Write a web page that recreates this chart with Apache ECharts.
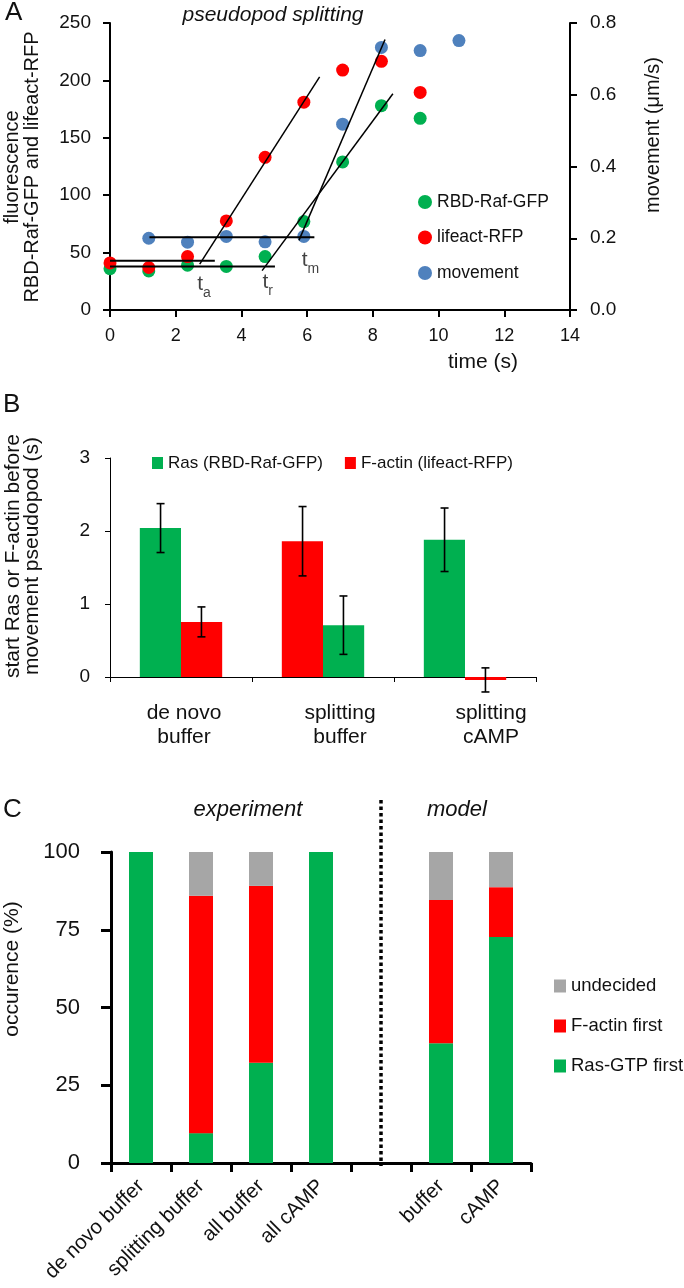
<!DOCTYPE html>
<html><head><meta charset="utf-8">
<script src="https://cdn.jsdelivr.net/npm/echarts@6/dist/echarts.min.js"></script>
<style>html,body{margin:0;padding:0;background:#fff}#c{width:684px;height:1288px}</style>
</head><body><div id="c"></div>
<script>
// ---------- Panel A data ----------
const timeS = [0, 1.18, 2.36, 3.54, 4.72, 5.9, 7.08, 8.26, 9.44, 10.62];
const rbdRafGfp = [36, 34, 39, 38, 46.5, 77, 129, 178, 167];
const lifeactRfp = [41, 37, 46.5, 77.6, 133, 181, 209, 216.6, 189.5];
const movementSpeed = [null, 0.200, 0.189, 0.205, 0.190, 0.205, 0.518, 0.732, 0.723, 0.751];
const fluorFitLines = [
  [[0, 43], [3.19, 43]],
  [[0, 37.8], [5.02, 37.8]],
  [[2.73, 40], [6.38, 203]],
  [[4.63, 34.3], [8.61, 188.4]]
];
const movementFitLines = [
  [[1.2, 0.203], [6.22, 0.203]],
  [[5.75, 0.194], [8.37, 0.754]]
];
const onsetLabels = [
  {main: 't', sub: 'a', time: 2.86, value: 20},
  {main: 't', sub: 'r', time: 4.80, value: 21.8},
  {main: 't', sub: 'm', time: 6.10, value: 41}
];
const aXTicks = [0, 14, 2];
// ---------- Panel B data ----------
const bCategories = ['de novo\nbuffer', 'splitting\nbuffer', 'splitting\ncAMP'];
const rasStart = [2.04, 0.71, 1.88];
const rasErr = [0.335, 0.40, 0.435];
const actinStart = [0.755, 1.86, -0.04];
const actinErr = [0.205, 0.475, 0.165];
const firstBar = ['ras', 'actin', 'ras'];
// ---------- Panel C data ----------
const cCategories = ['de novo buffer', 'splitting buffer', 'all buffer', 'all cAMP', '', 'buffer', 'cAMP'];
const rasGtpFirst = [100, 9.6, 32.2, 100, null, 38.5, 72.7];
const fActinFirst = [0, 76.3, 56.9, 0, null, 46.1, 16.0];
const undecidedPct = [0, 14.1, 10.9, 0, null, 15.4, 11.3];
const separatorIndex = 4;
const separatorTop = 116.7;

const GREEN = '#00B050', RED = '#FF0000', BLUE = '#4F81BD', GREY = '#A6A6A6';
const FF = '"Liberation Sans", Arial, sans-serif';
const TXT = '#111';

const chart = echarts.init(document.getElementById('c'), null, {renderer: 'canvas'});

const zip = (xs, ys) => ys.map((y, i) => [xs[i], y]).filter(p => p[1] !== null);

const series = [];
// Panel A scatter
series.push({name: 'RBD-Raf-GFP', type: 'scatter', xAxisIndex: 0, yAxisIndex: 0, symbolSize: 13,
  itemStyle: {color: GREEN, opacity: 1}, data: zip(timeS, rbdRafGfp), z: 3});
series.push({name: 'lifeact-RFP', type: 'scatter', xAxisIndex: 0, yAxisIndex: 0, symbolSize: 13,
  itemStyle: {color: RED, opacity: 1}, data: zip(timeS, lifeactRfp), z: 3});
series.push({name: 'movement', type: 'scatter', xAxisIndex: 0, yAxisIndex: 1, symbolSize: 13,
  itemStyle: {color: BLUE, opacity: 1}, data: zip(timeS, movementSpeed), z: 3});
fluorFitLines.forEach(seg => series.push({type: 'line', xAxisIndex: 0, yAxisIndex: 0, data: seg,
  showSymbol: false, symbol: 'none', silent: true, z: 5,
  lineStyle: {color: '#000', width: seg[0][1] === seg[1][1] ? 2 : 1.5}}));
movementFitLines.forEach(seg => series.push({type: 'line', xAxisIndex: 0, yAxisIndex: 1, data: seg,
  showSymbol: false, symbol: 'none', silent: true, z: 5,
  lineStyle: {color: '#000', width: seg[0][1] === seg[1][1] ? 2 : 1.5}}));
series.push({type: 'scatter', xAxisIndex: 0, yAxisIndex: 0, symbolSize: 0, silent: true,
  itemStyle: {color: 'transparent'},
  data: onsetLabels.map(o => ({value: [o.time, o.value], main: o.main, sub: o.sub})),
  label: {show: true, position: 'inside', color: TXT, textBorderWidth: 0, textBorderColor: 'transparent',
    formatter: p => '{t|' + p.data.main + '}{s|' + p.data.sub + '}',
    rich: {t: {fontSize: 21, fontFamily: FF, color: TXT, textBorderWidth: 0, verticalAlign: 'bottom', padding: [0, 0, 5, 0]},
           s: {fontSize: 14, fontFamily: FF, color: TXT, textBorderWidth: 0, verticalAlign: 'bottom'}}}});

// Panel B bars (left and right slot per group)
const leftData = firstBar.map((f, i) => f === 'ras'
  ? {value: rasStart[i], itemStyle: {color: GREEN}} : {value: actinStart[i], itemStyle: {color: RED}});
const rightData = firstBar.map((f, i) => f === 'ras'
  ? {value: actinStart[i], itemStyle: {color: RED}} : {value: rasStart[i], itemStyle: {color: GREEN}});
series.push({name: 'Ras (RBD-Raf-GFP)', type: 'bar', xAxisIndex: 1, yAxisIndex: 2, data: leftData,
  itemStyle: {color: GREEN}, barGap: '0%', barCategoryGap: '42%', clip: false});
series.push({name: 'F-actin (lifeact-RFP)', type: 'bar', xAxisIndex: 1, yAxisIndex: 2, data: rightData,
  itemStyle: {color: RED}, barGap: '0%', barCategoryGap: '42%', clip: false});
const errData = [];
firstBar.forEach((f, i) => {
  const rasSlot = f === 'ras' ? -1 : 1;
  errData.push([i, rasStart[i], rasErr[i], rasSlot]);
  errData.push([i, actinStart[i], actinErr[i], -rasSlot]);
});
series.push({type: 'custom', xAxisIndex: 1, yAxisIndex: 2, data: errData, silent: true, z: 10,
  encode: {x: 0, y: 1},
  renderItem: (params, api) => {
    const i = api.value(0), v = api.value(1), e = api.value(2), slot = api.value(3);
    const band = api.size([1, 0])[0];
    const c = api.coord([i, v]);
    const x = c[0] + slot * band * 0.144;
    const yt = api.coord([i, v + e])[1], yb = api.coord([i, v - e])[1];
    const st = {stroke: '#000', lineWidth: 1.6};
    return {type: 'group', children: [
      {type: 'line', shape: {x1: x, y1: yt, x2: x, y2: yb}, style: st},
      {type: 'line', shape: {x1: x - 4, y1: yt, x2: x + 4, y2: yt}, style: st},
      {type: 'line', shape: {x1: x - 4, y1: yb, x2: x + 4, y2: yb}, style: st}
    ]};
  }});

// Panel C stacked bars
series.push({name: 'Ras-GTP first', type: 'bar', stack: 'c', xAxisIndex: 2, yAxisIndex: 3,
  data: rasGtpFirst, itemStyle: {color: GREEN}, barWidth: '40%'});
series.push({name: 'F-actin first', type: 'bar', stack: 'c', xAxisIndex: 2, yAxisIndex: 3,
  data: fActinFirst, itemStyle: {color: RED}, barWidth: '40%'});
series.push({name: 'undecided', type: 'bar', stack: 'c', xAxisIndex: 2, yAxisIndex: 3,
  data: undecidedPct, itemStyle: {color: GREY}, barWidth: '40%'});
// dotted separator between experiment and model
series.push({type: 'custom', xAxisIndex: 2, yAxisIndex: 3, data: [[separatorIndex, separatorTop]], silent: true, z: 10,
  encode: {x: 0, y: 1},
  renderItem: (params, api) => {
    const idx = api.value(0);
    const p0 = api.coord([idx, 0]);
    const p1 = api.coord([idx, api.value(1)]);
    return {type: 'line', shape: {x1: p0[0], y1: p1[1], x2: p0[0], y2: p0[1] + 3},
      style: {stroke: '#000', lineWidth: 3.5, lineDash: [3.5, 3]}};
  }});

const axisCommon = (w, len) => ({
  axisLine: {show: true, onZero: true, lineStyle: {color: '#000', width: w}},
  axisTick: {show: true, inside: false, length: len, lineStyle: {color: '#000', width: w}},
  splitLine: {show: false}
});

const txt = (text, x, y, size, extra, rot) => {
  const g = {type: 'text', x: x, y: y, silent: true,
    style: Object.assign({text: text, fill: TXT, fontSize: size, fontFamily: FF, align: 'center', verticalAlign: 'middle'}, extra || {})};
  if (rot) g.rotation = Math.PI / 2;
  return g;
};

const option = {
  backgroundColor: '#fff',
  animation: false,
  textStyle: {fontFamily: FF},
  grid: [
    {left: 110, right: 114, top: 23, height: 287},
    {left: 110, right: 148, top: 458, height: 219},
    {left: 111, right: 153, top: 852, height: 311}
  ],
  xAxis: [
    Object.assign({gridIndex: 0, type: 'value', min: aXTicks[0], max: aXTicks[1], interval: aXTicks[2],
      axisLabel: {fontSize: 18, color: TXT, margin: 17}}, axisCommon(2, 7)),
    Object.assign({gridIndex: 1, type: 'category', data: bCategories,
      axisLabel: {fontSize: 21, color: TXT, margin: 24, lineHeight: 24, interval: 0,
        formatter: (v, i) => v.split('\n').map(l => '{o' + i + '|' + l + '}').join('\n'),
        rich: {o0: {padding: [0, 0, 0, 6], fontSize: 21, lineHeight: 24, color: TXT},
               o1: {padding: [0, 0, 0, 34], fontSize: 21, lineHeight: 24, color: TXT},
               o2: {padding: [0, 0, 0, 52], fontSize: 21, lineHeight: 24, color: TXT}}}}, axisCommon(1, 5)),
    Object.assign({gridIndex: 2, type: 'category', data: cCategories,
      axisLabel: {fontSize: 20.5, color: TXT, margin: 20, rotate: 45, interval: 0}}, axisCommon(3, 9))
  ],
  yAxis: [
    Object.assign({gridIndex: 0, type: 'value', min: 0, max: 250, interval: 50,
      axisLabel: {fontSize: 19, color: TXT, margin: 19}}, axisCommon(2, 7)),
    Object.assign({gridIndex: 0, type: 'value', position: 'right', min: 0, max: 0.8, interval: 0.2,
      axisLabel: {fontSize: 19, color: TXT, margin: 20, formatter: v => v.toFixed(1)}}, axisCommon(2, 7)),
    Object.assign({gridIndex: 1, type: 'value', min: 0, max: 3, interval: 1,
      axisLabel: {fontSize: 19, color: TXT, margin: 20}}, axisCommon(1, 5)),
    Object.assign({gridIndex: 2, type: 'value', min: 0, max: 100, interval: 25,
      axisLabel: {fontSize: 22, color: TXT, margin: 31}}, axisCommon(3, 10))
  ],
  legend: [
    {data: ['RBD-Raf-GFP', 'lifeact-RFP', 'movement'], orient: 'vertical', left: 413, top: 187,
      icon: 'circle', itemWidth: 14, itemHeight: 14, itemGap: 15.5, selectedMode: false,
      textStyle: {fontSize: 17.5, color: TXT, lineHeight: 20, fontFamily: FF}},
    {data: ['Ras (RBD-Raf-GFP)', 'F-actin (lifeact-RFP)'], orient: 'horizontal', left: 147, top: 448,
      icon: 'rect', itemWidth: 11, itemHeight: 12, itemGap: 22, selectedMode: false,
      textStyle: {fontSize: 17, color: TXT, lineHeight: 20, fontFamily: FF}},
    {data: ['undecided', 'F-actin first', 'Ras-GTP first'], orient: 'vertical', left: 549, top: 970,
      icon: 'rect', itemWidth: 12, itemHeight: 13, itemGap: 18, selectedMode: false,
      textStyle: {fontSize: 18.5, color: TXT, lineHeight: 22, fontFamily: FF}}
  ],
  graphic: [
    txt('A', 5, 13, 26, {align: 'left'}),
    txt('pseudopod splitting', 273, 15, 21, {fontStyle: 'italic'}),
    txt('fluorescence\nRBD-Raf-GFP and lifeact-RFP', 22.5, 167, 20, {lineHeight: 19.5}, true),
    txt('movement (\u03bcm/s)', 653, 135, 20, null, true),
    txt('time (s)', 483, 362, 21),
    txt('B', 3, 405, 26, {align: 'left'}),
    txt('start Ras or F-actin before\nmovement pseudopod (s)', 22.5, 556, 21, {lineHeight: 19.5}, true),
    txt('C', 3, 810, 26, {align: 'left'}),
    txt('experiment', 248, 810, 22, {fontStyle: 'italic'}),
    txt('model', 457, 810, 22, {fontStyle: 'italic'}),
    txt('occurence (%)', 12, 969, 21, null, true)
  ],
  series: series
};
chart.setOption(option);
</script>
</body></html>
